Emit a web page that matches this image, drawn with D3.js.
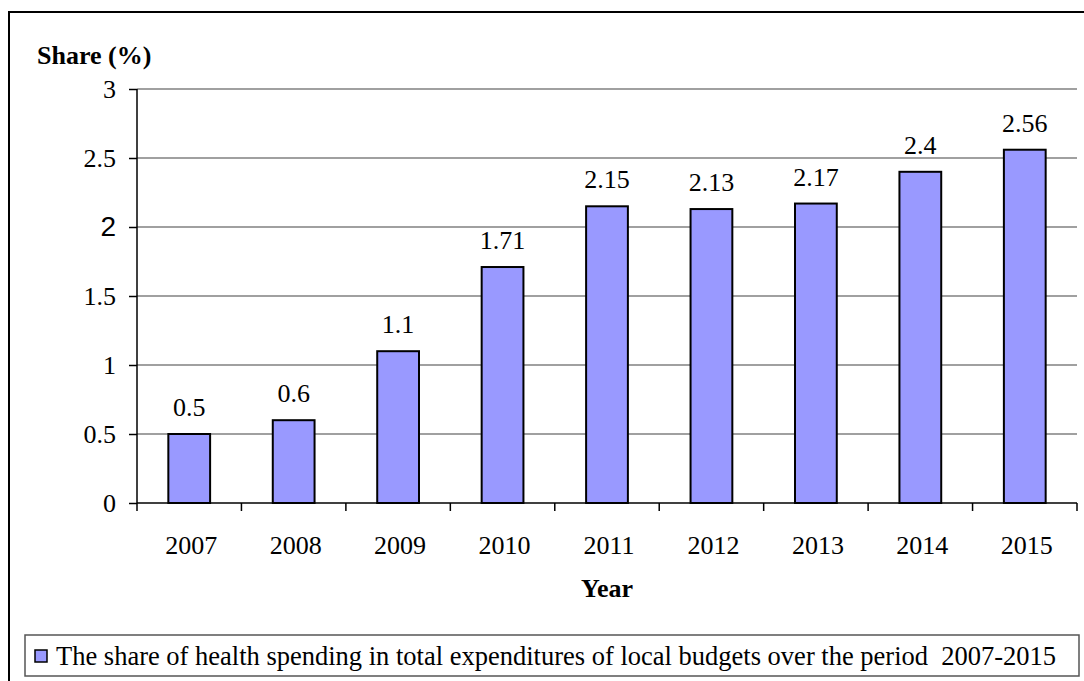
<!DOCTYPE html>
<html>
<head>
<meta charset="utf-8">
<script src="https://cdn.jsdelivr.net/npm/d3@7"></script>
<style>
  body { margin: 0; background: #fff; }
  text { font-family: "Liberation Serif", "Times New Roman", serif; fill: #000; }
</style>
</head>
<body>
<div id="chart"></div>
<script>
const years = ["2007", "2008", "2009", "2010", "2011", "2012", "2013", "2014", "2015"];
const shares = [0.5, 0.6, 1.1, 1.71, 2.15, 2.13, 2.17, 2.4, 2.56];
const yTicks = [0, 0.5, 1, 1.5, 2, 2.5, 3];
const legendText = "The share of health spending in total expenditures of local budgets over the period  2007-2015";

const width = 1084,
  height = 681;
const margin = { left: 137, right: 7, top: 89, bottom: 178 };
const fs = "26px";

const svg = d3
  .select("#chart")
  .append("svg")
  .attr("width", width)
  .attr("height", height);

// outer frame
svg
  .append("rect")
  .attr("x", 9)
  .attr("y", 12)
  .attr("width", 1100)
  .attr("height", 700)
  .attr("fill", "none")
  .attr("stroke", "#000")
  .attr("stroke-width", 2);

const x = d3
  .scaleBand()
  .domain(years)
  .range([margin.left, width - margin.right])
  .paddingInner(0.6)
  .paddingOuter(0.3);

const y = d3
  .scaleLinear()
  .domain([0, 3])
  .range([height - margin.bottom, margin.top]);

// grid lines
svg
  .append("g")
  .selectAll("line")
  .data(yTicks.filter((d) => d > 0))
  .enter()
  .append("line")
  .attr("x1", margin.left)
  .attr("x2", width - margin.right)
  .attr("y1", (d) => y(d))
  .attr("y2", (d) => y(d))
  .attr("stroke", "#808080")
  .attr("stroke-width", 1.5);

// bars
svg
  .append("g")
  .selectAll("rect")
  .data(shares)
  .enter()
  .append("rect")
  .attr("x", (d, i) => x(years[i]))
  .attr("y", (d) => y(d))
  .attr("width", x.bandwidth())
  .attr("height", (d) => y(0) - y(d))
  .attr("fill", "#9999ff")
  .attr("stroke", "#000")
  .attr("stroke-width", 2);

// value labels
svg
  .append("g")
  .selectAll("text")
  .data(shares)
  .enter()
  .append("text")
  .attr("x", (d, i) => x(years[i]) + x.bandwidth() / 2)
  .attr("y", (d) => y(d) - 18)
  .attr("text-anchor", "middle")
  .style("font-size", fs)
  .text((d) => d);

// y axis
const yAxis = svg
  .append("g")
  .attr("transform", `translate(${margin.left},0)`)
  .call(d3.axisLeft(y).tickValues(yTicks).tickSize(8).tickPadding(13).tickFormat((d) => d));
yAxis.select(".domain").attr("stroke", "#000").attr("stroke-width", 1.5).attr("d", `M0,${y(3)}V${y(0)}`);
yAxis.selectAll(".tick line").attr("stroke", "#000").attr("stroke-width", 1.5);
yAxis
  .selectAll(".tick text")
  .style("font-family", (d) => (d === 2 ? "Liberation Sans, Arial, sans-serif" : null))
  .style("font-size", (d) => (d === 2 ? "28px" : fs))
  .attr("fill", "#000");

// x axis: ticks between categories
const xAxis = svg.append("g").attr("transform", `translate(0,${y(0)})`);
xAxis
  .append("line")
  .attr("x1", margin.left)
  .attr("x2", width - margin.right)
  .attr("stroke", "#000")
  .attr("stroke-width", 1.5);
const step = x.step();
xAxis
  .selectAll(".xtick")
  .data(d3.range(years.length + 1))
  .enter()
  .append("line")
  .attr("x1", (i) => margin.left + i * step)
  .attr("x2", (i) => margin.left + i * step)
  .attr("y1", 0)
  .attr("y2", 8)
  .attr("stroke", "#000")
  .attr("stroke-width", 1.5);
xAxis
  .selectAll(".xlabel")
  .data(years)
  .enter()
  .append("text")
  .attr("x", (d) => x(d) + x.bandwidth() / 2 + 2)
  .attr("y", 51)
  .attr("text-anchor", "middle")
  .style("font-size", fs)
  .text((d) => d);

// axis titles
svg
  .append("text")
  .attr("x", 37)
  .attr("y", 64)
  .style("font-size", fs)
  .style("font-weight", "bold")
  .text("Share (%)");
svg
  .append("text")
  .attr("x", (margin.left + width - margin.right) / 2)
  .attr("y", 597)
  .attr("text-anchor", "middle")
  .style("font-size", fs)
  .style("font-weight", "bold")
  .text("Year");

// legend
const legend = svg.append("g");
legend
  .append("rect")
  .attr("x", 25)
  .attr("y", 635)
  .attr("width", 1054)
  .attr("height", 41)
  .attr("fill", "#fff")
  .attr("stroke", "#555")
  .attr("stroke-width", 1.5);
legend
  .append("rect")
  .attr("x", 35)
  .attr("y", 650)
  .attr("width", 12)
  .attr("height", 12)
  .attr("fill", "#9999ff")
  .attr("stroke", "#000")
  .attr("stroke-width", 1.5);
legend
  .append("text")
  .attr("x", 56)
  .attr("y", 665)
  .style("font-size", "26.5px")
  .style("white-space", "pre")
  .text(legendText);
</script>
</body>
</html>
